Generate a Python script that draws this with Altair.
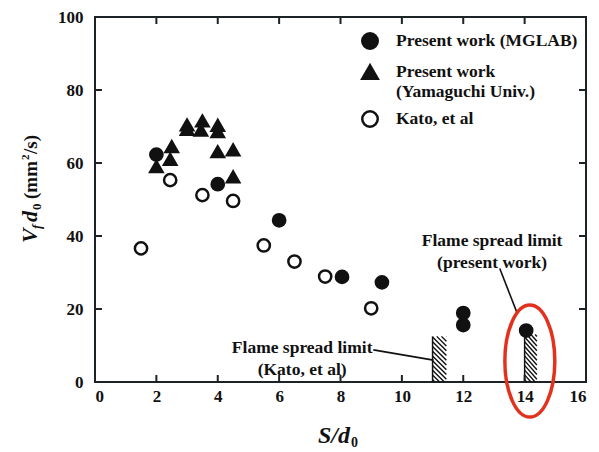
import altair as alt
import pandas as pd

# ---- measured flame-spread rates, V_f*d_0 (mm^2/s) vs spacing S/d_0 ----
mglab_s = [2.0, 4.0, 6.0, 8.05, 9.35, 12.0, 12.0, 14.05]
mglab_v = [62.3, 54.2, 44.3, 28.8, 27.3, 18.9, 15.6, 14.1]

yamaguchi_s = [2.0, 2.5, 2.45, 3.0, 3.0, 3.5, 3.45, 4.0, 4.0, 4.0, 4.5, 4.5]
yamaguchi_v = [59.0, 64.5, 61.0, 70.4, 69.2, 71.5, 69.0, 70.3, 68.6, 63.1, 63.6, 56.2]

kato_s = [1.5, 2.45, 3.5, 4.5, 5.5, 6.5, 7.5, 9.0]
kato_v = [36.6, 55.3, 51.2, 49.6, 37.4, 33.0, 28.9, 20.2]

series_names = ["Present work (MGLAB)", "Present work (Yamaguchi Univ.)", "Kato, et al"]

# flame spread limits (hatched columns)
limit_left = [11.0, 14.0]
limit_right = [11.45, 14.4]
limit_top = [12.5, 13.0]

x_ticks = [0, 2, 4, 6, 8, 10, 12, 14, 16]
y_ticks = [0, 20, 40, 60, 80, 100]

# ---- tables ----
points = pd.DataFrame(
    {
        "s": mglab_s + yamaguchi_s + kato_s,
        "v": mglab_v + yamaguchi_v + kato_v,
        "series": [series_names[0]] * len(mglab_s)
        + [series_names[1]] * len(yamaguchi_s)
        + [series_names[2]] * len(kato_s),
    }
)

# diagonal hatch strokes clipped to each limit column
hatch = []
step, drop = 1.3, 3.8
for x0, x1, top in zip(limit_left, limit_right, limit_top):
    slope = drop / (x1 - x0)
    c = step / 2
    while c - drop < top:
        xa, ya = x0, c
        if ya > top:
            xa, ya = x0 + (c - top) / slope, top
        xb, yb = x1, c - drop
        if yb < 0:
            xb, yb = x0 + c / slope, 0.0
        if xa < xb:
            hatch.append({"x": xa, "y": ya, "x2": xb, "y2": yb})
        c += step
hatch = pd.DataFrame(hatch)
edges = pd.DataFrame({"x": limit_left, "top": limit_top})

notes = pd.DataFrame(
    {
        "x": [6.75, 12.94],
        "y": [9.45, 38.5],
        "text": ["Flame spread limit\n(Kato, et al)", "Flame spread limit\n(present work)"],
    }
)
leaders = pd.DataFrame(
    {"x": [9.07, 13.19], "y": [8.8, 31.1], "x2": [11.03, 13.75], "y2": [6.0, 19.0]}
)
ring = pd.DataFrame({"x": [14.17], "y": [5.75]})

W, H = 491, 365
SERIF = "Liberation Serif"
INK = "#111111"
FRAME = "#1c2326"

xs = alt.Scale(domain=[0, 16], nice=False, zero=False)
ys = alt.Scale(domain=[0, 100], nice=False, zero=False)
xax = alt.Axis(
    values=x_ticks, ticks=False, domain=False, grid=False, title=None,
    labelFont=SERIF, labelFontWeight="bold", labelFontSize=17, labelColor=INK,
    labelPadding=6,
)
yax = alt.Axis(
    values=y_ticks, ticks=False, domain=False, grid=False, title=None,
    labelFont=SERIF, labelFontWeight="bold", labelFontSize=17, labelColor=INK,
    labelPadding=12,
)

legend = alt.Legend(
    title=None, orient="none", legendX=266, legendY=15, padding=0,
    symbolSize=240, symbolStrokeWidth=2.5,
    labelFont=SERIF, labelFontWeight="bold", labelFontSize=17.5, labelColor=INK,
    labelOffset=17, rowPadding=6, labelLimit=0,
    labelExpr="datum.label == 'Present work (Yamaguchi Univ.)' ? ['Present work', '(Yamaguchi Univ.)'] : datum.label",
)

X = lambda f: alt.X(f, type="quantitative", scale=xs, axis=xax)
Y = lambda f: alt.Y(f, type="quantitative", scale=ys, axis=yax)

base_pts = alt.Chart(points).mark_point(size=150, strokeWidth=2.5, opacity=1).encode(
    x=X("s"),
    y=Y("v"),
    shape=alt.Shape(
        "series:N",
        scale=alt.Scale(domain=series_names, range=["circle", "triangle-up", "circle"]),
        legend=legend,
    ),
    fill=alt.Fill(
        "series:N",
        scale=alt.Scale(domain=series_names, range=[INK, INK, "#ffffff"]),
        legend=legend,
    ),
    stroke=alt.Stroke(
        "series:N",
        scale=alt.Scale(domain=series_names, range=[INK, INK, INK]),
        legend=legend,
    ),
)

hatch_layer = alt.Chart(hatch).mark_rule(color=INK, strokeWidth=1.4).encode(
    x=X("x"), y=Y("y"), x2="x2", y2="y2"
)
edge_layer = alt.Chart(edges).mark_rule(color=INK, strokeWidth=1.5).encode(
    x=X("x"), y=alt.Y("top:Q", scale=ys, axis=yax), y2=alt.datum(0)
)
leader_layer = alt.Chart(leaders).mark_rule(color=INK, strokeWidth=1.6).encode(
    x=X("x"), y=Y("y"), x2="x2", y2="y2"
)
note_layer = alt.Chart(notes).mark_text(
    font=SERIF, fontWeight="bold", fontSize=17.5, color=INK,
    lineBreak="\n", lineHeight=22, align="center", baseline="middle",
).encode(x=X("x"), y=Y("y"), text="text:N")

ellipse = "M -0.446 0 A 0.446 1 0 1 0 0.446 0 A 0.446 1 0 1 0 -0.446 0 Z"
ring_layer = alt.Chart(ring).mark_point(
    shape=ellipse, size=112 * 112, filled=False, stroke="#e2321e",
    strokeWidth=3.5, opacity=1,
).encode(x=X("x"), y=Y("y"))

# inward ticks on all four sides
tick_df = pd.DataFrame({"t": x_ticks[1:-1]})
ytick_df = pd.DataFrame({"t": y_ticks[1:-1]})
tick_style = dict(color=FRAME, strokeWidth=2)
ticks = [
    alt.Chart(tick_df).mark_rule(**tick_style).encode(x=X("t"), y=alt.value(H), y2=alt.value(H - 7)),
    alt.Chart(tick_df).mark_rule(**tick_style).encode(x=X("t"), y=alt.value(0), y2=alt.value(7)),
    alt.Chart(ytick_df).mark_rule(**tick_style).encode(y=Y("t"), x=alt.value(0), x2=alt.value(7)),
    alt.Chart(ytick_df).mark_rule(**tick_style).encode(y=Y("t"), x=alt.value(W), x2=alt.value(W - 7)),
]

# axis titles built from pieces (italic symbols with sub/superscripts)
one = pd.DataFrame({"k": [0]})


def piece(txt, px, py, size, italic=False, angle=0):
    kw = dict(
        text=txt, font=SERIF, fontWeight="bold", fontSize=size, color=INK,
        align="left", baseline="alphabetic", angle=angle,
    )
    if italic:
        kw["fontStyle"] = "italic"
    return alt.Chart(one).mark_text(**kw).encode(x=alt.value(px), y=alt.value(py))


titles = [
    # x title: S/d0
    piece("S/d", 223, 426, 24, italic=True),
    piece("0", 256, 430, 14),
    # y title: Vf d0 (mm2/s), reading upward
    piece("V", -58, 226, 22, italic=True, angle=270),
    piece("f", -54, 212, 13, italic=True, angle=270),
    piece("d", -58, 205, 22, italic=True, angle=270),
    piece("0", -54, 193, 13, angle=270),
    piece("(mm", -58, 182, 19, angle=270),
    piece("2", -66, 143, 11, angle=270),
    piece("/s)", -58, 137, 19, angle=270),
]

chart = (
    alt.layer(
        hatch_layer, edge_layer, leader_layer, *ticks, base_pts, note_layer, ring_layer, *titles
    )
    .properties(
        width=W,
        height=H,
        padding={"left": 95, "top": 17, "right": 13, "bottom": 70},
        autosize="none",
        background="white",
    )
    .configure_view(stroke=FRAME, strokeWidth=2)
)

chart.save("out.html", embed_options={"renderer": "svg", "actions": False})
